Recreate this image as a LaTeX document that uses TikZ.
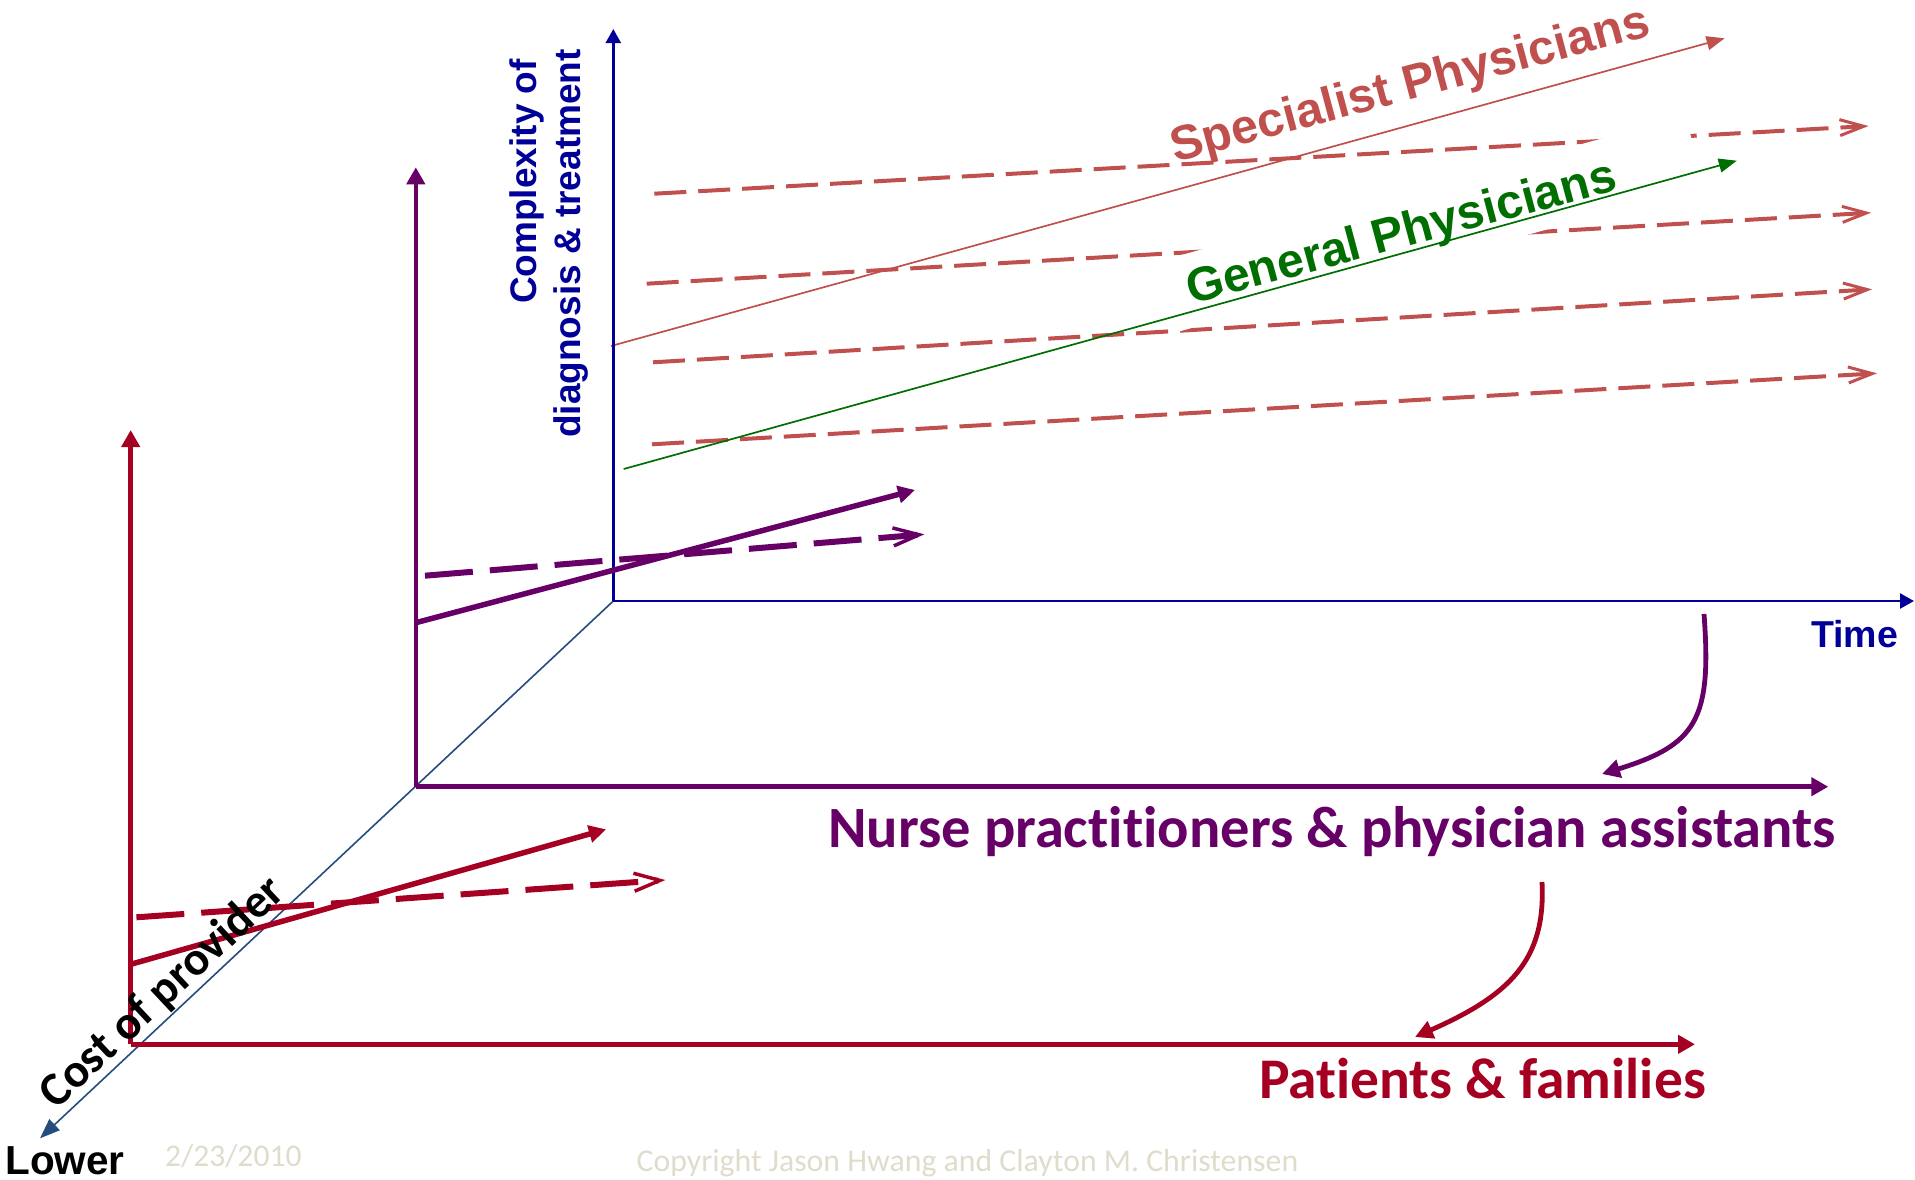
\documentclass[tikz,border=0pt]{standalone}
\usepackage{fontspec}
\setmainfont{Liberation Sans}
\newfontfamily\calib{Carlito}[Ligatures={NoCommon}]
\usetikzlibrary{arrows.meta}
\definecolor{navy}{RGB}{0,0,153}
\definecolor{purp}{RGB}{102,0,102}
\definecolor{dred}{RGB}{165,0,33}
\definecolor{spec}{RGB}{192,80,77}
\definecolor{gphys}{RGB}{0,110,0}
\definecolor{diag}{RGB}{36,76,126}
\definecolor{beige}{RGB}{224,220,204}
\begin{document}
\begin{tikzpicture}[x=1pt,y=-1pt,
  ax/.style={draw=navy, line width=2.5pt, -{Triangle[length=14pt,width=15pt]}},
  pax/.style={draw=purp, line width=4.5pt, -{Triangle[length=17pt,width=18pt]}},
  rax/.style={draw=dred, line width=4.5pt, -{Triangle[length=17pt,width=18pt]}},
  sdash/.style={draw=spec, line width=4pt, dash pattern=on 32pt off 12pt, -{Straight Barb[length=24pt,width=16pt,line width=3pt]}},
  thinarrow/.style={line width=1.7pt, -{Triangle[length=18pt,width=14pt]}},
  thicksolid/.style={line width=5.5pt, -{Triangle[length=17pt,width=17pt]}},
  thickdash/.style={line width=6pt, dash pattern=on 48pt off 17pt, -{Straight Barb[length=26pt,width=18pt,line width=3.5pt]}},
  curved/.style={line width=4.8pt, -{Triangle[length=18pt,width=18pt]}},
  lbl/.style={inner sep=0pt},
]
\useasboundingbox (0,0) rectangle (1915,1179);

% axis points
\coordinate (O) at (613.3,601);
\coordinate (Otop) at (613.3,29);
\coordinate (Oright) at (1914,601);
\coordinate (Dend) at (40,1138.3);
\coordinate (P) at (415.8,786.7);
\coordinate (Ptop) at (415.8,167.3);
\coordinate (Pright) at (1828.3,786.7);
\coordinate (R) at (130.7,1044.3);
\coordinate (Rtop) at (130.7,430);
\coordinate (Rright) at (1695,1044.3);

% diagonal cost axis
\draw[diag, line width=1.6pt, -{Triangle[length=20pt,width=15pt]}] (O) -- (Dend);

% specialist dashed trajectories
\coordinate (d1s) at (654.3,193.7); \coordinate (d1e) at (1868.5,126);
\coordinate (d2s) at (646.7,283.7); \coordinate (d2e) at (1871,212.7);
\coordinate (d3s) at (653,362.3);   \coordinate (d3e) at (1872,289.3);
\coordinate (d4s) at (652,444.3);   \coordinate (d4e) at (1877,373.3);
\draw[sdash] (d1s) -- (d1e);
\draw[sdash] (d2s) -- (d2e);
\draw[sdash] (d3s) -- (d3e);
\draw[sdash] (d4s) -- (d4e);

% specialist solid trajectory
\coordinate (sps) at (611,346); \coordinate (spe) at (1724.6,38.3);
\draw[spec, thinarrow] (sps) -- (spe);

% white text box behind "General Physicians"
\fill[white] (1179.4,331.4) -- (1704.6,185.7) -- (1685.1,115.4) -- (1159.9,261) -- cycle;

% general physicians trajectory
\coordinate (gps) at (623.7,469); \coordinate (gpe) at (1736.8,160.7);
\draw[gphys, thinarrow] (gps) -- (gpe);

% axes
\draw[ax] (O) -- (Otop);
\draw[ax] (O) -- (Oright);
\draw[pax] (P) -- (Ptop);
\draw[pax] (P) -- (Pright);
\draw[rax] (R) -- (Rtop);
\draw[rax] (R) -- (Rright);

% purple trajectories
\coordinate (pss) at (415.8,622.7); \coordinate (pse) at (915,490);
\coordinate (pds) at (425,575.7);   \coordinate (pde) at (924.4,534.3);
\draw[purp, thickdash] (pds) -- (pde);
\draw[purp, thicksolid] (pss) -- (pse);

% red trajectories
\coordinate (rss) at (130.7,964.3); \coordinate (rse) at (606,829.3);
\coordinate (rds) at (136.4,917.3); \coordinate (rde) at (665.3,880);
\draw[dred, thickdash] (rds) -- (rde);
\draw[dred, thicksolid] (rss) -- (rse);

% curved arrows
\coordinate (c1s) at (1704,614); \coordinate (c1e) at (1602,774);
\draw[purp, curved] (c1s) .. controls (1712,720) and (1696,745) .. (c1e);
\coordinate (c2s) at (1542,882); \coordinate (c2e) at (1415,1037);
\draw[dred, curved] (c2s) .. controls (1546,960) and (1510,995) .. (c2e);

% labels
\node[lbl, rotate=15, anchor=base, text=spec, font=\bfseries\fontsize{48.5}{58}\selectfont] (tspec) at (1414,99) {Specialist Physicians};
\node[lbl, rotate=15, anchor=base, text=gphys, font=\bfseries\fontsize{48}{58}\selectfont] (tgen) at (1405,247) {General Physicians};
\node[lbl, rotate=90, anchor=base east, text=navy, font=\bfseries\fontsize{37}{45}\selectfont] (tcx1) at (536,59) {Complexity of};
\node[lbl, rotate=90, anchor=base east, text=navy, font=\bfseries\fontsize{37}{45}\selectfont] (tcx2) at (580.9,49) {diagnosis \& treatment};
\node[lbl, anchor=base, text=navy, font=\bfseries\fontsize{37.5}{45}\selectfont] (ttime) at (1854.5,647.3) {Time};
\node[lbl, anchor=base, text=purp, font=\calib\bfseries\fontsize{58.5}{70}\selectfont] (tnurse) at (1332,847.5) {Nurse practitioners \& physician assistants};
\node[lbl, anchor=base, text=dred, font=\calib\bfseries\fontsize{57.5}{68}\selectfont] (tpat) at (1482.5,1098.5) {Patients \& families};
\node[lbl, rotate=43.1, anchor=center, text=black, font=\calib\bfseries\fontsize{47.5}{57}\selectfont] (tcost) at (163,993) {Cost of provider};
\node[lbl, anchor=base, text=black, font=\bfseries\fontsize{40.5}{48}\selectfont] (tlow) at (65,1174) {Lower};
\node[lbl, anchor=base, text=beige, font=\calib\fontsize{31.6}{38}\selectfont] (tdate) at (233.3,1166.7) {2/23/2010};
\node[lbl, anchor=base, text=beige, font=\calib\fontsize{31.8}{38}\selectfont] (tcopy) at (967.5,1171) {Copyright Jason Hwang and Clayton M. Christensen};
\end{tikzpicture}
\end{document}
